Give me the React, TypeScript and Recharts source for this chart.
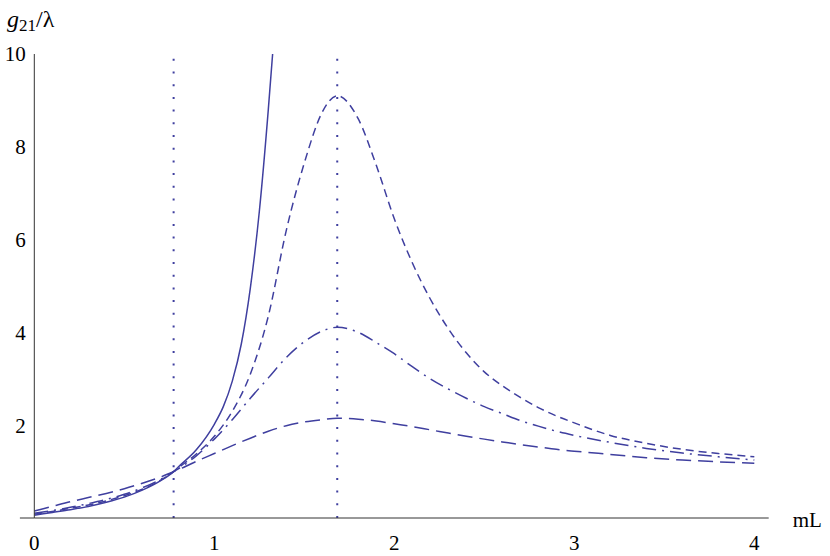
import { LineChart, Line, XAxis, YAxis, ReferenceLine } from 'recharts';

// sample points (mL on x, g21/lambda on y)
const GRID_X = [0, 0.1, 0.2, 0.3, 0.4, 0.5, 0.6, 0.7, 0.774, 0.8, 0.9, 1.0, 1.1, 1.2, 1.3, 1.4, 1.5, 1.6, 1.683, 1.8, 1.9, 2.0, 2.1, 2.2, 2.3, 2.4, 2.5, 2.6, 2.7, 2.8, 2.9, 3.0, 3.2, 3.4, 3.6, 3.8, 4.0];
const SHORT_DASH_Y = [0.08, 0.14, 0.21, 0.28, 0.37, 0.48, 0.62, 0.81, 1.0, 1.08, 1.38, 1.76, 2.3, 3.1, 4.35, 6.2, 7.65, 8.75, 9.1, 8.6, 7.6, 6.45, 5.5, 4.72, 4.08, 3.56, 3.15, 2.85, 2.6, 2.38, 2.2, 2.05, 1.78, 1.61, 1.48, 1.39, 1.32];
const DASH_DOT_Y = [0.1, 0.16, 0.23, 0.31, 0.4, 0.51, 0.65, 0.83, 1.0, 1.06, 1.34, 1.7, 2.12, 2.58, 3.02, 3.46, 3.8, 4.03, 4.11, 4.0, 3.78, 3.54, 3.26, 3.0, 2.78, 2.58, 2.4, 2.25, 2.1, 1.98, 1.87, 1.78, 1.63, 1.5, 1.4, 1.32, 1.25];
const LONG_DASH_Y = [0.15, 0.25, 0.35, 0.44, 0.53, 0.63, 0.75, 0.88, 1.0, 1.04, 1.22, 1.39, 1.56, 1.72, 1.87, 1.99, 2.07, 2.12, 2.15, 2.13, 2.09, 2.03, 1.97, 1.9, 1.83, 1.76, 1.7, 1.64, 1.58, 1.53, 1.48, 1.44, 1.37, 1.3, 1.25, 1.21, 1.18];

// solid curve blows up before mL = 1.35
const SOLID_X = [0, 0.1, 0.2, 0.3, 0.4, 0.5, 0.6, 0.7, 0.774, 0.8, 0.9, 1.0, 1.05, 1.1, 1.15, 1.2, 1.25, 1.3, 1.324];
const SOLID_Y = [0.06, 0.12, 0.18, 0.25, 0.34, 0.45, 0.6, 0.8, 1.0, 1.1, 1.47, 2.02, 2.4, 2.95, 3.75, 4.95, 6.6, 8.8, 10];

const MARKERS_X = [0.774, 1.683];

const X_TICKS = [0, 1, 2, 3, 4];
const X_MINOR = [0, 0.2, 0.4, 0.6, 0.8, 1, 1.2, 1.4, 1.6, 1.8, 2, 2.2, 2.4, 2.6, 2.8, 3, 3.2, 3.4, 3.6, 3.8, 4];
const Y_TICKS = [2, 4, 6, 8, 10];
const Y_MAJOR = [0, 2, 4, 6, 8, 10];
const Y_MINOR = [0, 0.5, 1, 1.5, 2, 2.5, 3, 3.5, 4, 4.5, 5, 5.5, 6, 6.5, 7, 7.5, 8, 8.5, 9, 9.5, 10];

const CURVE = '#3f3f9f';
const AXIS = '#333';
const FONT = "'Liberation Serif', 'DejaVu Serif', serif";

const pair = (xs: number[], ys: number[]) => xs.map((x, i) => ({ x, y: ys[i] }));

const solid = pair(SOLID_X, SOLID_Y);
const shortDash = pair(GRID_X, SHORT_DASH_Y);
const dashDot = pair(GRID_X, DASH_DOT_Y);
const longDash = pair(GRID_X, LONG_DASH_Y);

const tickStyle = { fill: '#000', fontSize: 21, fontFamily: FONT };

export default function App() {
  return (
    <div style={{ position: 'absolute', left: 0, top: 0, background: '#fff', fontFamily: FONT }}>
      <LineChart width={830} height={556} margin={{ top: 54, right: 61.3, bottom: 0, left: 0 }}>
        {/* minor / major tick marks drawn inward */}
        <XAxis xAxisId="xmin" type="number" dataKey="x" domain={[0, 4.08]} allowDataOverflow ticks={X_MINOR} interval={0}
          mirror height={0} tickSize={4} axisLine={false} tickLine={{ stroke: AXIS }} tickFormatter={() => ''} />
        <XAxis xAxisId="xmaj" type="number" dataKey="x" domain={[0, 4.08]} allowDataOverflow ticks={X_TICKS} interval={0}
          mirror height={0} tickSize={7} axisLine={false} tickLine={{ stroke: AXIS }} tickFormatter={() => ''} />
        <YAxis yAxisId="ymin" type="number" domain={[0, 10]} allowDataOverflow ticks={Y_MINOR} interval={0}
          mirror width={0} tickSize={4} axisLine={false} tickLine={{ stroke: AXIS }} tickFormatter={() => ''} />
        <YAxis yAxisId="ymaj" type="number" domain={[0, 10]} allowDataOverflow ticks={Y_MAJOR} interval={0}
          mirror width={0} tickSize={7} axisLine={false} tickLine={{ stroke: AXIS }} tickFormatter={() => ''} />

        <XAxis
          xAxisId="x"
          type="number"
          dataKey="x"
          domain={[0, 4.08]}
          allowDataOverflow
          ticks={X_TICKS}
          interval={0}
          height={38}
          tickLine={false}
          tickSize={0}
          tickMargin={17}
          axisLine={{ stroke: AXIS }}
          tick={tickStyle}
          label={(props: any) => {
            const vb = props.viewBox;
            return (
              <text x={vb.x + vb.width + 24} y={vb.y + 9} fontFamily={FONT} fontSize={21} fill="#000">mL</text>
            );
          }}
        />
        <YAxis
          yAxisId="y"
          type="number"
          domain={[0, 10]}
          allowDataOverflow
          ticks={Y_TICKS}
          interval={0}
          width={34.3}
          tickLine={false}
          tickSize={0}
          tickMargin={8.5}
          axisLine={{ stroke: AXIS }}
          tick={tickStyle}
          label={(props: any) => {
            const vb = props.viewBox;
            return (
              <text x={vb.x + 7} y={vb.y - 27} fontFamily={FONT} fontSize={24} fill="#000">
                <tspan fontStyle="italic">g</tspan>
                <tspan fontSize={17} dy={4}>21</tspan>
                <tspan dy={-4}>/λ</tspan>
              </text>
            );
          }}
        />

        {/* x axis runs a little left of the origin */}
        <ReferenceLine xAxisId="x" yAxisId="y" segment={[{ x: -0.08, y: 0 }, { x: 0, y: 0 }]} ifOverflow="visible" stroke={AXIS} />

        {MARKERS_X.map((v) => (
          <ReferenceLine key={v} xAxisId="x" yAxisId="y" x={v} stroke={CURVE} strokeWidth={2} strokeDasharray="2 10.7" />
        ))}

        <Line xAxisId="x" yAxisId="y" data={solid} dataKey="y" type="monotone" stroke={CURVE} strokeWidth={1.5} dot={false} isAnimationActive={false} />
        <Line xAxisId="x" yAxisId="y" data={shortDash} dataKey="y" type="monotone" stroke={CURVE} strokeWidth={1.5} strokeDasharray="8 5" dot={false} isAnimationActive={false} />
        <Line xAxisId="x" yAxisId="y" data={dashDot} dataKey="y" type="monotone" stroke={CURVE} strokeWidth={1.5} strokeDasharray="14 6 2 6" dot={false} isAnimationActive={false} />
        <Line xAxisId="x" yAxisId="y" data={longDash} dataKey="y" type="monotone" stroke={CURVE} strokeWidth={1.5} strokeDasharray="15 7" dot={false} isAnimationActive={false} />
      </LineChart>
    </div>
  );
}
